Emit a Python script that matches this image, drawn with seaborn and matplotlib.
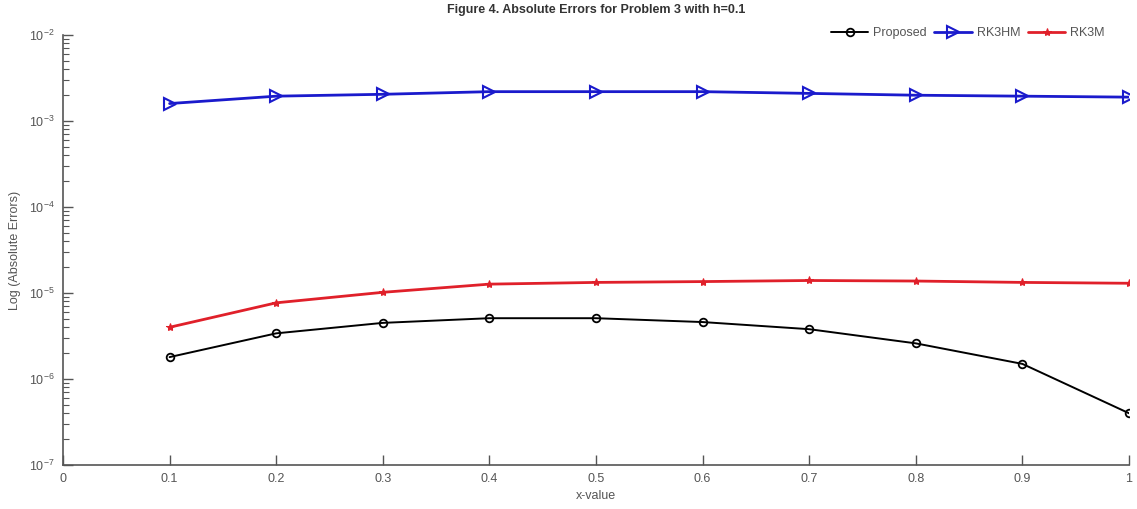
import matplotlib.pyplot as plt
from matplotlib.ticker import LogLocator, NullFormatter
import seaborn as sns
import pandas as pd

# values (log scale)
x_values = [0.1, 0.2, 0.3, 0.4, 0.5, 0.6, 0.7, 0.8, 0.9, 1.0]
proposed = [1.8e-6, 3.4e-6, 4.5e-6, 5.1e-6, 5.1e-6, 4.6e-6, 3.8e-6, 2.6e-6, 1.5e-6, 4.0e-7]
rk3hm = [1.6e-3, 1.95e-3, 2.05e-3, 2.2e-3, 2.2e-3, 2.2e-3, 2.1e-3, 2.0e-3, 1.95e-3, 1.9e-3]
rk3m = [4.0e-6, 7.7e-6, 1.02e-5, 1.27e-5, 1.33e-5, 1.36e-5, 1.4e-5, 1.38e-5, 1.33e-5, 1.3e-5]
x_ticks = [0, 0.1, 0.2, 0.3, 0.4, 0.5, 0.6, 0.7, 0.8, 0.9, 1]
x_tick_labels = ['0', '0.1', '0.2', '0.3', '0.4', '0.5', '0.6', '0.7', '0.8', '0.9', '1']

df = pd.DataFrame({'x': x_values, 'Proposed': proposed, 'RK3HM': rk3hm, 'RK3M': rk3m})

sns.set_style('white')
plt.rcParams['font.family'] = ['Liberation Sans', 'DejaVu Sans']
plt.rcParams['mathtext.fontset'] = 'custom'
plt.rcParams['mathtext.rm'] = 'Liberation Sans'
plt.rcParams['mathtext.it'] = 'Liberation Sans'
gray = '#555555'

fig = plt.figure(figsize=(11.37, 5.09), dpi=100)
ax = fig.add_axes([0.0554, 0.0864, 0.9376, 0.8446])

sns.lineplot(data=df, x='x', y='Proposed', ax=ax, color='black', lw=1.4,
             marker='o', markersize=5.5, markerfacecolor='none', markeredgecolor='black',
             markeredgewidth=1.3, label='Proposed')
sns.lineplot(data=df, x='x', y='RK3HM', ax=ax, color='#1a1acc', lw=2,
             marker='>', markersize=8, markerfacecolor='none', markeredgecolor='#1a1acc',
             markeredgewidth=1.5, label='RK3HM')
sns.lineplot(data=df, x='x', y='RK3M', ax=ax, color='#e0202a', lw=2,
             marker='*', markersize=6, markerfacecolor='#e0202a', markeredgecolor='#e0202a',
             label='RK3M')

ax.set_yscale('log')
ax.set_ylim(1e-7, 1e-2)
ax.set_xlim(0, 1)
ax.yaxis.set_minor_locator(LogLocator(base=10, subs=range(2, 10), numticks=20))
ax.yaxis.set_minor_formatter(NullFormatter())
ax.set_xticks(x_ticks)
ax.set_xticklabels(x_tick_labels)

for side in ['top', 'right']:
    ax.spines[side].set_visible(False)
for side in ['left', 'bottom']:
    ax.spines[side].set_color(gray)
    ax.spines[side].set_linewidth(1.2)

ax.tick_params(axis='both', which='major', direction='in', length=7, width=1,
               colors=gray, labelsize=9, left=True, bottom=True, pad=6)
ax.tick_params(axis='y', which='minor', direction='in', length=4, width=0.8,
               colors=gray, left=True)

ax.set_xlabel('x-value', fontsize=9, color=gray, labelpad=3)
ax.set_ylabel('Log (Absolute Errors)', fontsize=9, color=gray, labelpad=6)
ax.set_title('Figure 4. Absolute Errors for Problem 3 with h=0.1', fontsize=9,
             fontweight='bold', color='#333333', pad=16)

leg = ax.legend(loc='upper right', ncol=3, frameon=False, fontsize=9,
                bbox_to_anchor=(0.988, 1.045), handlelength=3, columnspacing=0.6,
                handletextpad=0.4)
for t in leg.get_texts():
    t.set_color(gray)

fig.savefig('out.png', dpi=100)
